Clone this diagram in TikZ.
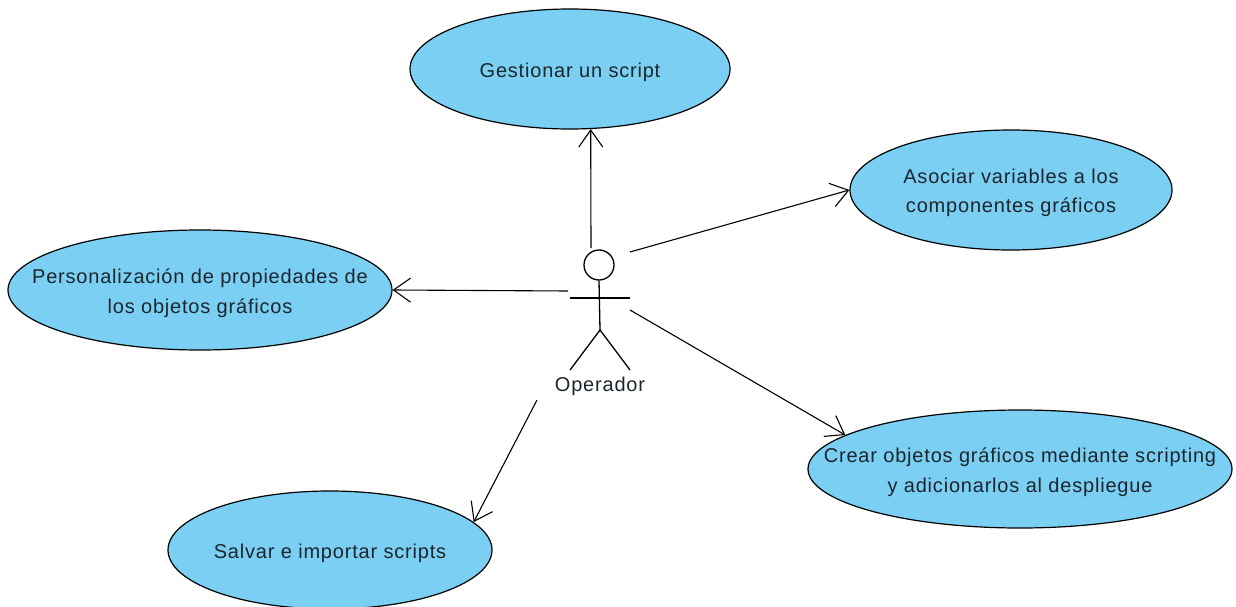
\documentclass[tikz,border=0pt]{standalone}
\usepackage{fontspec}
\setmainfont{Liberation Sans}[LetterSpace=4]
\usetikzlibrary{shapes.geometric,arrows.meta}

\definecolor{ucfill}{RGB}{122,207,243}
\definecolor{uctext}{RGB}{28,38,44}

\tikzset{
  usecase/.style={ellipse, draw=black, line width=1.2pt, fill=ucfill,
    inner sep=0pt},
  uclabel/.style={align=center, text=uctext, inner sep=0pt, yshift=-3pt,
    font=\fontsize{20}{29.5}\selectfont},
  assoc/.style={draw=black, line width=1.1pt,
    -{Straight Barb[length=17pt,width=24pt,line width=1.1pt]}},
  stick/.style={draw=black, line width=1.3pt},
}

\begin{document}
\begin{tikzpicture}[x=1pt,y=-1pt]
  \useasboundingbox (0,0) rectangle (1236,607);

  % use cases: the ellipse keeps its own size, the text sits at its centre
  \node[usecase, minimum width=320pt, minimum height=120pt,
        label={[uclabel]center:Gestionar un script}] (gest) at (570,69) {};
  \node[usecase, minimum width=322pt, minimum height=120pt,
        label={[uclabel]center:Asociar variables a los\\componentes gráficos}]
        (asoc) at (1011,190) {};
  \node[usecase, minimum width=384pt, minimum height=120pt,
        label={[uclabel]center:Personalización de propiedades de\\los objetos gráficos}]
        (pers) at (200,290) {};
  \node[usecase, minimum width=424pt, minimum height=118pt,
        label={[uclabel]center:Crear objetos gráficos mediante scripting\\y adicionarlos al despliegue}]
        (crear) at (1020,469) {};
  \node[usecase, minimum width=324pt, minimum height=118pt,
        label={[uclabel]center:Salvar e importar scripts}]
        (salv) at (330,550) {};

  % actor
  \node[circle, draw=black, line width=1.3pt, fill=white, minimum size=30pt,
        inner sep=0pt] (head) at (599,265) {};
  \coordinate (hip) at (600,330);
  \coordinate (armL) at (570,298);
  \coordinate (armR) at (630,298);
  \coordinate (footL) at (570,370);
  \coordinate (footR) at (630,370);
  \draw[stick] (head.south) -- (hip);
  \draw[stick] (armL) -- (armR);
  \draw[stick] (footL) -- (hip) -- (footR);
  \node[text=uctext, font=\fontsize{20}{24}\selectfont, inner sep=0pt]
    (op) at (600,386) {Operador};

  % connector ends at the actor
  \coordinate (op-n)  at (591,248);
  \coordinate (op-ne) at (630,252);
  \coordinate (op-w)  at (568,291);
  \coordinate (op-se) at (630,310);
  \coordinate (op-sw) at (537,400);

  % associations
  \draw[assoc] (op-n)  -- (gest.-71);
  \draw[assoc] (op-ne) -- (asoc.west);
  \draw[assoc] (op-w)  -- (pers.east);
  \draw[assoc] (op-se) -- (crear.169);
  \draw[assoc] (op-sw) -- (salv.11);
\end{tikzpicture}
\end{document}
